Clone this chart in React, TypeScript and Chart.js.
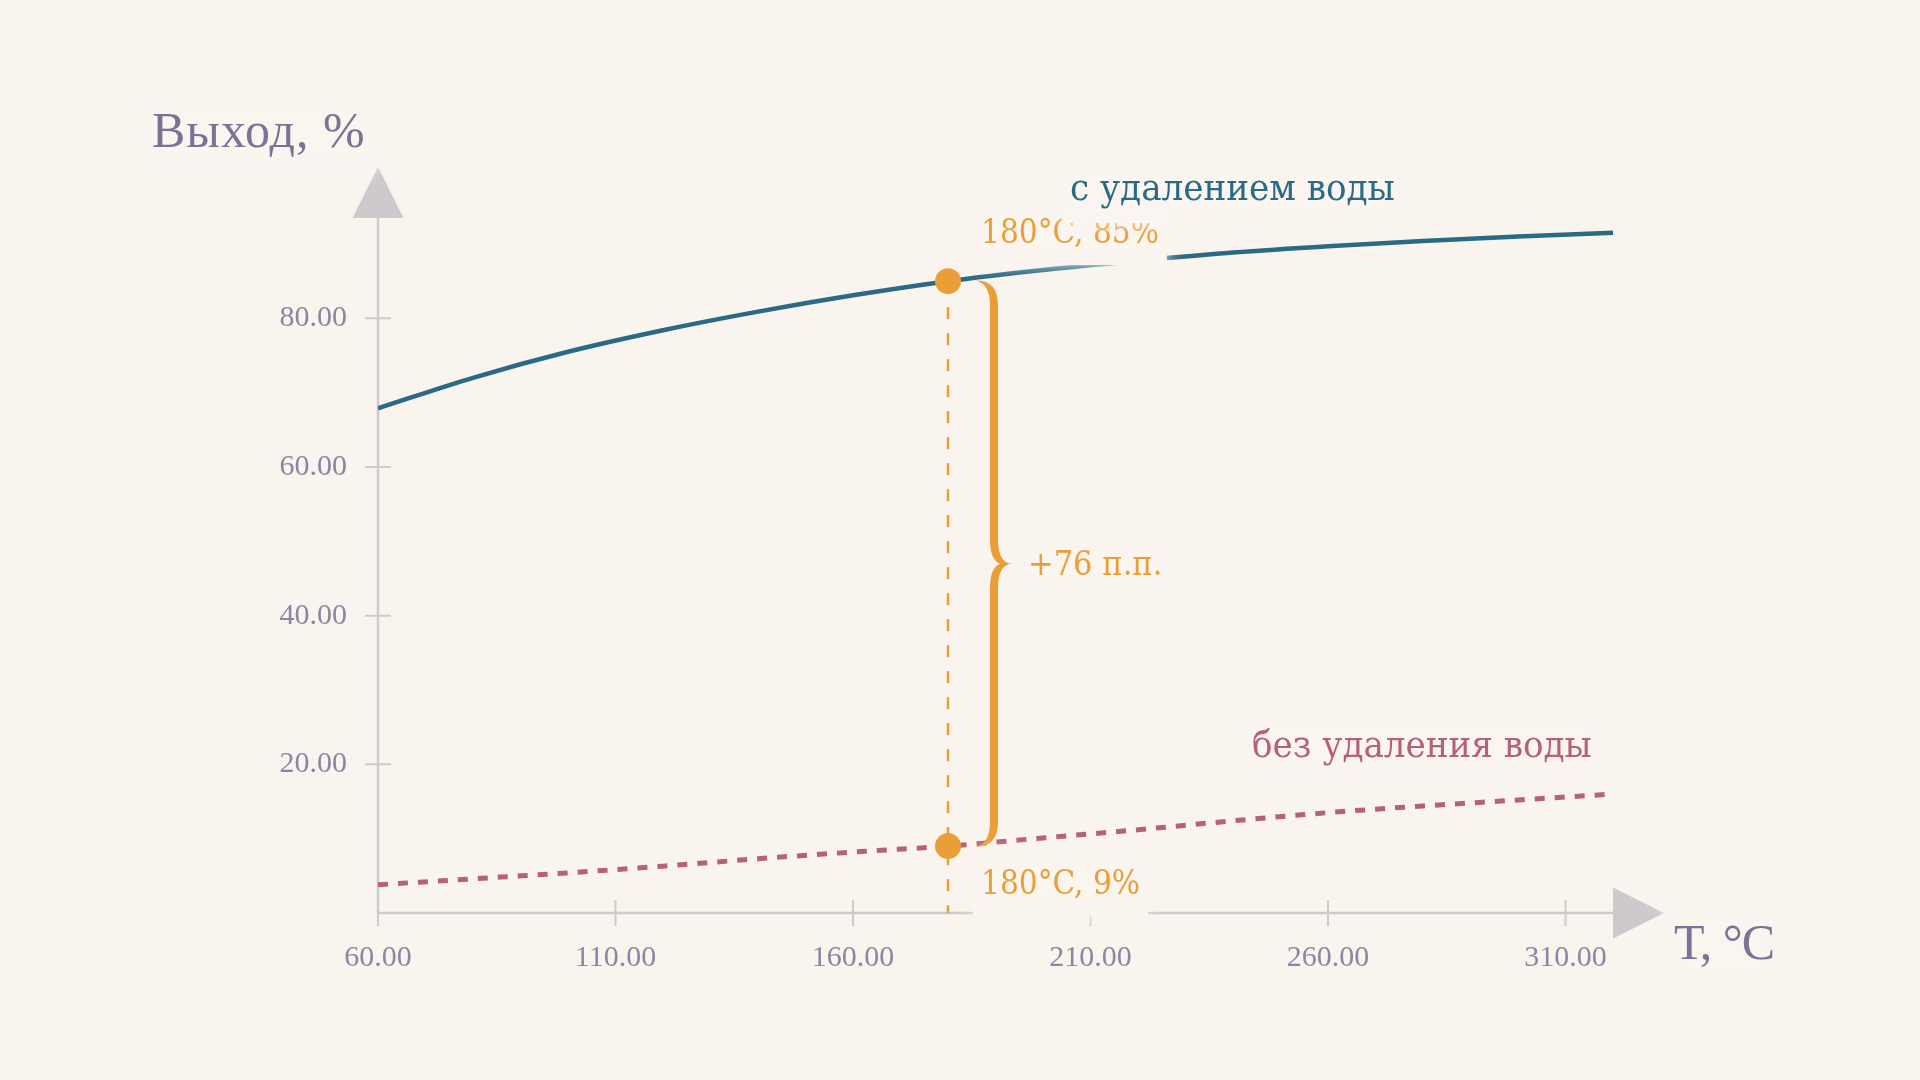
import { useEffect, useRef } from "react";
import { Chart, registerables } from "chart.js";

Chart.register(...registerables);

// Температура, °C — общая сетка для обеих кривых
const TEMPS = [60, 80, 100, 120, 140, 160, 180, 200, 220, 240, 260, 280, 300, 320];
// Выход с удалением воды, %
const WITH_REMOVAL = [67.9, 72.0, 75.5, 78.4, 80.9, 83.1, 85.0, 86.5, 87.75, 88.85, 89.7, 90.4, 91.0, 91.5];
// Выход без удаления воды, %
const WITHOUT_REMOVAL = [3.8, 4.6, 5.4, 6.3, 7.3, 8.2, 9.0, 10.1, 11.2, 12.4, 13.5, 14.4, 15.2, 16.0];

// Отмеченная точка сравнения
const MARK_T = 180;
const MARK_WITH = 85;
const MARK_WITHOUT = 9;

const X_TICKS = [60, 110, 160, 210, 260, 310];
const Y_TICKS = [20, 40, 60, 80];

const BG = "#FAF4EE";
const BOX = "rgba(250, 245, 239, 0.97)";
const TEAL = "#2A6A85";
const ROSE = "#B5617A";
const ORANGE = "#EB9E37";
const AXIS = "#CFCACD";
const TICK_TEXT = "#8B86A4";
const TITLE = "#7A7396";
const SERIF = '"Liberation Serif", serif';
const COND = '"DejaVu Serif Condensed", "DejaVu Serif", serif';

function drawLabel(
  ctx: CanvasRenderingContext2D,
  text: string,
  x: number,
  y: number,
  font: string,
  color: string,
  spacing = "0px"
) {
  ctx.save();
  ctx.font = font;
  (ctx as any).letterSpacing = spacing;
  const m = ctx.measureText(text);
  const asc = m.fontBoundingBoxAscent ?? 30;
  const desc = m.fontBoundingBoxDescent ?? 8;
  ctx.shadowColor = BOX;
  ctx.shadowBlur = 14;
  ctx.fillStyle = BOX;
  ctx.fillRect(x - 8, y - asc - 10, m.width + 16, asc + desc + 24);
  ctx.shadowBlur = 0;
  ctx.shadowColor = "transparent";
  ctx.fillStyle = color;
  ctx.textBaseline = "alphabetic";
  ctx.textAlign = "left";
  ctx.fillText(text, x, y);
  ctx.restore();
}

const decorPlugin = {
  id: "decor",
  // оси со стрелками и двусторонними засечками
  beforeDatasetsDraw(chart: any) {
    const { ctx, chartArea: a, scales } = chart;
    const xs = scales.x, ys = scales.y;
    const x0 = xs.getPixelForValue(xs.min);
    const y0 = ys.getPixelForValue(0);
    ctx.save();
    ctx.strokeStyle = AXIS;
    ctx.lineWidth = 2.5;
    ctx.beginPath();
    ctx.moveTo(x0, y0);
    ctx.lineTo(x0, a.top);
    ctx.moveTo(x0, y0);
    ctx.lineTo(a.right, y0);
    ctx.stroke();
    ctx.lineWidth = 2;
    ctx.beginPath();
    Y_TICKS.forEach((v) => {
      const py = ys.getPixelForValue(v);
      ctx.moveTo(x0 - 13, py);
      ctx.lineTo(x0 + 13, py);
    });
    X_TICKS.forEach((v) => {
      const px = xs.getPixelForValue(v);
      ctx.moveTo(px, y0 - 13);
      ctx.lineTo(px, y0 + 13);
    });
    ctx.stroke();
    ctx.fillStyle = "#CEC9CD";
    ctx.beginPath();
    ctx.moveTo(x0, a.top - 51);
    ctx.lineTo(x0 + 25.5, a.top);
    ctx.lineTo(x0 - 25.5, a.top);
    ctx.closePath();
    ctx.fill();
    ctx.beginPath();
    ctx.moveTo(a.right + 51, y0);
    ctx.lineTo(a.right, y0 - 25.5);
    ctx.lineTo(a.right, y0 + 25.5);
    ctx.closePath();
    ctx.fill();
    ctx.restore();
  },
  // фигурная скобка между двумя точками
  afterDatasetsDraw(chart: any) {
    const { ctx, scales } = chart;
    const px = scales.x.getPixelForValue(MARK_T);
    const yt = scales.y.getPixelForValue(MARK_WITH);
    const yb = scales.y.getPixelForValue(MARK_WITHOUT);
    const ym = (yt + yb) / 2;
    const xv = px + 46, w = 4, tip = px + 27, cusp = px + 64, r = 24;
    ctx.save();
    ctx.fillStyle = ORANGE;
    ctx.beginPath();
    ctx.moveTo(tip, yt - 1);
    ctx.quadraticCurveTo(xv + w, yt - 1, xv + w, yt + r);
    ctx.lineTo(xv + w, ym - r);
    ctx.quadraticCurveTo(xv + w, ym - 1, cusp, ym);
    ctx.quadraticCurveTo(xv + w, ym + 1, xv + w, ym + r);
    ctx.lineTo(xv + w, yb - r);
    ctx.quadraticCurveTo(xv + w, yb + 1, tip, yb + 1);
    ctx.quadraticCurveTo(xv - w, yb - 2, xv - w, yb - r);
    ctx.lineTo(xv - w, ym + r);
    ctx.quadraticCurveTo(xv - w, ym + 4, cusp - 12, ym);
    ctx.quadraticCurveTo(xv - w, ym - 4, xv - w, ym - r);
    ctx.lineTo(xv - w, yt + r);
    ctx.quadraticCurveTo(xv - w, yt + 2, tip, yt - 1);
    ctx.closePath();
    ctx.fill();
    ctx.restore();
  },
  // подписи поверх всего
  afterDraw(chart: any) {
    const { ctx, chartArea: a, scales } = chart;
    const px = scales.x.getPixelForValue(MARK_T);
    const yt = scales.y.getPixelForValue(MARK_WITH);
    const yb = scales.y.getPixelForValue(MARK_WITHOUT);
    const ym = scales.y.getPixelForValue((MARK_WITH + MARK_WITHOUT) / 2);
    drawLabel(ctx, `${MARK_T}°C, ${MARK_WITH}%`, px + 33, yt - 38, `33px ${COND}`, ORANGE);
    drawLabel(ctx, `${MARK_T}°C, ${MARK_WITHOUT}%`, px + 33, yb + 48, `33px ${COND}`, ORANGE);
    drawLabel(ctx, `+${MARK_WITH - MARK_WITHOUT} п.п.`, px + 80, ym + 11, `34px ${COND}`, ORANGE);
    drawLabel(ctx, "с удалением воды", 1070, 200, `38px ${COND}`, TEAL);
    drawLabel(ctx, "без удаления воды", 1252, 757, `38px ${COND}`, ROSE);
    drawLabel(ctx, "Выход, %", a.left - 226, a.top - 71, `50px ${SERIF}`, TITLE, "1px");
    drawLabel(ctx, "T, °C", a.right + 61, a.bottom + 46, `50px ${SERIF}`, TITLE, "-1px");
  },
};

export default function App() {
  const canvasRef = useRef<HTMLCanvasElement>(null);

  useEffect(() => {
    document.body.style.margin = "0";
    document.body.style.background = BG;
    if (!canvasRef.current) return;

    const tickFont = { family: SERIF, size: 30 };

    const chart = new Chart(canvasRef.current, {
      type: "line",
      data: {
        datasets: [
          {
            label: "точки",
            data: [
              { x: MARK_T, y: MARK_WITH },
              { x: MARK_T, y: MARK_WITHOUT },
            ],
            showLine: false,
            pointRadius: 13,
            pointBackgroundColor: ORANGE,
            pointBorderWidth: 0,
            order: 0,
          },
          {
            label: "с удалением воды",
            data: TEMPS.map((t, i) => ({ x: t, y: WITH_REMOVAL[i] })),
            borderColor: TEAL,
            borderWidth: 4.5,
            pointRadius: 0,
            cubicInterpolationMode: "monotone",
            order: 2,
          },
          {
            label: "без удаления воды",
            data: TEMPS.map((t, i) => ({ x: t, y: WITHOUT_REMOVAL[i] })),
            borderColor: ROSE,
            borderWidth: 5,
            borderDash: [10, 10],
            pointRadius: 0,
            cubicInterpolationMode: "monotone",
            order: 3,
          },
          {
            label: "проекция",
            data: [
              { x: MARK_T, y: MARK_WITH },
              { x: MARK_T, y: 0 },
            ],
            borderColor: ORANGE,
            borderWidth: 2.5,
            borderDash: [12, 14],
            pointRadius: 0,
            order: 4,
          },
        ],
      },
      options: {
        animation: false,
        responsive: true,
        maintainAspectRatio: false,
        layout: { padding: { left: 218, right: 307, top: 218, bottom: 87 } },
        plugins: {
          legend: { display: false },
          tooltip: { enabled: false },
        },
        scales: {
          x: {
            type: "linear",
            min: 60,
            max: 320,
            grid: { display: false },
            border: { display: false },
            afterBuildTicks: (s: any) => {
              s.ticks = X_TICKS.map((v) => ({ value: v }));
            },
            afterFit: (s: any) => {
              s.height = 80;
            },
            ticks: {
              autoSkip: false,
              maxRotation: 0,
              padding: 19,
              color: TICK_TEXT,
              font: tickFont,
              callback: (v: any) => Number(v).toFixed(2),
            },
          },
          y: {
            type: "linear",
            min: 0,
            max: 93.5,
            grid: { display: false },
            border: { display: false },
            afterBuildTicks: (s: any) => {
              s.ticks = Y_TICKS.map((v) => ({ value: v }));
            },
            afterFit: (s: any) => {
              s.width = 160;
            },
            ticks: {
              padding: 23,
              color: TICK_TEXT,
              font: tickFont,
              callback: (v: any) => Number(v).toFixed(2),
            },
          },
        },
      },
      plugins: [decorPlugin],
    });

    return () => chart.destroy();
  }, []);

  return (
    <div style={{ width: 1920, height: 1080, background: BG, position: "relative" }}>
      <canvas ref={canvasRef} />
    </div>
  );
}
